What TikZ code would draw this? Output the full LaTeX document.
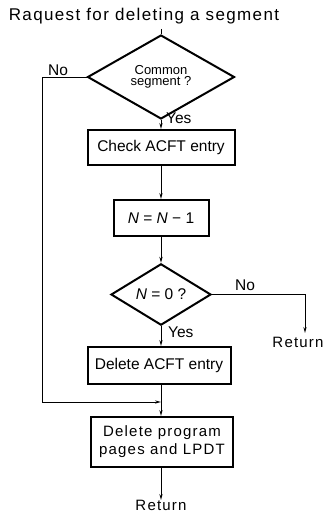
\documentclass[tikz,border=0pt]{standalone}
\usepackage{fontspec}
\setmainfont{Liberation Sans}
\newfontfamily\wide[LetterSpace=8]{Liberation Sans}
\usetikzlibrary{shapes.geometric,arrows.meta}
\begin{document}
\begin{tikzpicture}[x=1pt,y=-1pt,
  font=\fontsize{15.5}{17}\selectfont,
  flow/.style={line width=1pt},
  arr/.style={flow,-{Stealth[length=6pt,width=3.2pt]}},
  box/.style={draw,line width=2pt,inner sep=0pt,align=center},
  test/.style={diamond,draw,line width=2pt,inner sep=0pt,align=center},
  lbl/.style={inner sep=0pt}]
\useasboundingbox (0,0) rectangle (329,519);

% start of the routine
\node[lbl,font=\wide\fontsize{17}{19}\selectfont] (req) at (144,16) {Raquest for deleting a segment};
\coordinate (s0) at (161,29);

% decisions and actions
\node[test,minimum width=147pt,minimum height=50pt,font=\fontsize{13}{11.5}\selectfont] (d1) at (161,77) {Common\\segment ?};
\node[box,minimum width=147pt,minimum height=35pt] (b1) at (161,147.5) {Check ACFT entry};
\node[box,minimum width=95pt,minimum height=36pt] (b2) at (161,218) {\textit{N} = \textit{N} − 1};
\node[test,minimum width=100pt,minimum height=43pt] (d2) at (161,294.5) {\textit{N} = 0 ?};
\node[box,minimum width=143pt,minimum height=37pt] (b3) at (159,365.5) {Delete ACFT entry};
\node[box,minimum width=142pt,minimum height=50pt,font=\wide\fontsize{15}{18}\selectfont] (b4) at (162,442) {Delete program\\pages and LPDT};

% exits
\node[lbl,font=\wide\fontsize{15}{17}\selectfont,anchor=north] (r1) at (298,337) {Return};
\node[lbl,font=\wide\fontsize{15}{17}\selectfont,anchor=north] (r2) at (161,500) {Return};
\coordinate (rx) at (305,333);
\coordinate (L) at (42,402);
\coordinate (jn) at (161,402);

% connectors
\draw[flow,dashed,dash pattern=on 5pt off 3pt] (s0) -- (d1.north);
\draw[arr] (d1.south) -- (b1.north);
\draw[arr] (b1.south) -- (b2.north);
\draw[arr] (b2.south) -- (d2.north);
\draw[arr] (d2.south) -- (d2.south |- b3.north);
\draw[arr] (d2.south |- b3.south) -- (b4.north -| d2.south);
\draw[arr] (b4.south -| d2.south) -- (r2.north);
\draw[arr] (d2.east) -| (rx);
\draw[flow] (d1.west) -| (L);
\draw[arr] (L) -- (jn);

% branch labels
\node[lbl,anchor=south] (n1) at (58,76) {No};
\node[lbl,anchor=west] (y1) at (166,118) {Yes};
\node[lbl,anchor=south] (n2) at (245,291) {No};
\node[lbl,anchor=west] (y2) at (168,332) {Yes};
\end{tikzpicture}
\end{document}
